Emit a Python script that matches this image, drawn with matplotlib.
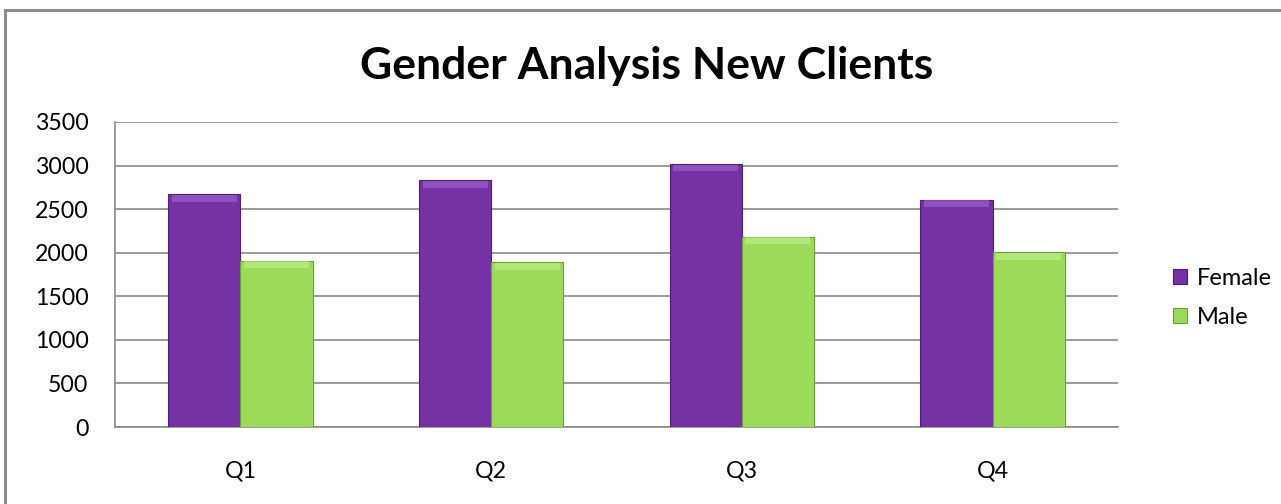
import matplotlib
matplotlib.use("Agg")
import matplotlib.pyplot as plt
import numpy as np
from matplotlib.patches import Rectangle

categories = ["Q1", "Q2", "Q3", "Q4"]
female = [2670, 2835, 3020, 2610]
male = [1910, 1890, 2185, 2005]
series_names = ["Female", "Male"]
yticks = [0, 500, 1000, 1500, 2000, 2500, 3000, 3500]
title = "Gender Analysis New Clients"

plt.rcParams['font.family'] = ['Lato', 'DejaVu Sans']

W, H = 1281, 504
fig = plt.figure(figsize=(W/100, H/100), dpi=100)
ax = fig.add_axes([115/W, (H-427)/H, (1118-115)/W, (427-122)/H])

x = np.arange(len(categories))
bw = 0.288
purple = "#7432A4"
purple_edge = "#4E1F73"
purple_hi = "#A46BD6"
green = "#9CDB5A"
green_edge = "#6C9E3A"
green_hi = "#C4F08E"
bevel = 80
b1 = ax.bar(x - bw/2, female, bw, color=purple, edgecolor=purple_edge, linewidth=0.8, label=series_names[0], zorder=3)
b2 = ax.bar(x + bw/2, male, bw, color=green, edgecolor=green_edge, linewidth=0.8, label=series_names[1], zorder=3)
# bevel highlight along top of each bar
ax.bar(x - bw/2, [bevel]*len(x), bw*0.9, bottom=[v - bevel*1.1 for v in female], color=purple_hi, alpha=0.55, linewidth=0, zorder=4)
ax.bar(x + bw/2, [bevel]*len(x), bw*0.9, bottom=[v - bevel*1.1 for v in male], color=green_hi, alpha=0.6, linewidth=0, zorder=4)

ax.set_xlim(-0.5, len(categories) - 0.5)
ax.set_ylim(0, 3500)
ax.set_yticks(yticks)
ax.set_yticklabels([str(v) for v in yticks], fontsize=16.7)
ax.set_xticks(x)
ax.set_xticklabels(categories, fontsize=16.7)
ax.tick_params(axis='y', length=0, pad=19)
ax.tick_params(axis='x', length=0, pad=24)
ax.yaxis.grid(True, color="#8a8a8a", linewidth=1.2, zorder=0)
ax.set_axisbelow(True)
for s in ["top", "right"]:
    ax.spines[s].set_visible(False)
for s in ["left", "bottom"]:
    ax.spines[s].set_color("#8a8a8a")
    ax.spines[s].set_linewidth(1.2)

fig.text(647/W, 1 - 66/H, title, ha="center", va="center", fontsize=32, fontweight="bold")

leg = fig.legend(handles=[b1, b2], labels=series_names, loc="center left",
                 bbox_to_anchor=(1152/W, 1 - 298/H), frameon=False, fontsize=17,
                 handlelength=0.6, handleheight=0.6, handletextpad=0.4, labelspacing=0.75)

# outer chart border
fig.patches.append(Rectangle((5/W, -0.05), 1.2, 1 - 10/H + 0.05, transform=fig.transFigure,
                             fill=False, edgecolor="#8c8c8c", linewidth=2.2))

fig.savefig("out.png", dpi=100)
